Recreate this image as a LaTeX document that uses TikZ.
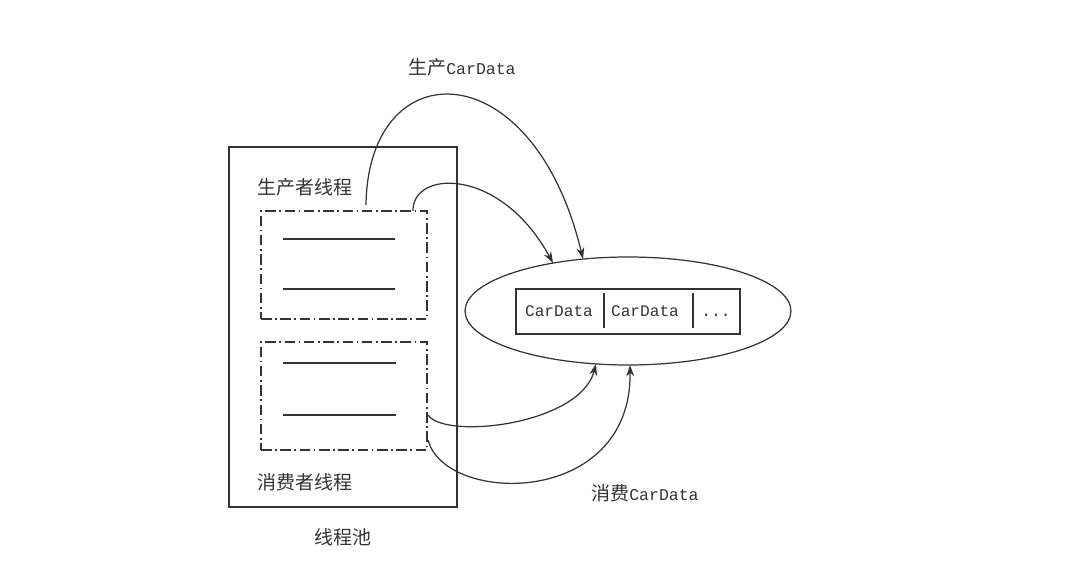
\documentclass[tikz,border=0pt]{standalone}
\usepackage{fontspec}
\setmainfont{Liberation Serif}
\newfontfamily\cjk{Noto Sans CJK SC}
\newfontfamily\mono{Liberation Mono}
\usetikzlibrary{shapes.geometric,arrows.meta}
\definecolor{ink}{HTML}{333333}
\begin{document}
\begin{tikzpicture}[x=0.02cm,y=-0.02cm,
  solidline/.style={draw=ink, line width=0.7pt},
  dashdot/.style={draw=ink, line width=0.7pt, dash pattern=on 6pt off 2pt on 1pt off 2pt},
  arr/.style={-{Stealth[length=6.5pt,width=4.5pt]}, draw=ink, line width=0.7pt},
  lbl/.style={font=\cjk\fontsize{10.8}{12}\selectfont, text=ink, inner sep=0pt},
  cell/.style={font=\mono\fontsize{9.2}{11}\selectfont, text=ink, inner sep=0pt, anchor=base}]
\useasboundingbox (0,0) rectangle (1080,577);
\fill[white] (0,0) rectangle (1080,577);
% thread pool
\node[solidline, minimum width=4.56cm, minimum height=7.2cm, inner sep=0pt] (pool) at (343,327) {};
\node[dashdot, minimum width=3.32cm, minimum height=2.16cm, inner sep=0pt] (prod) at (344,265) {};
\node[dashdot, minimum width=3.32cm, minimum height=2.16cm, inner sep=0pt] (cons) at (344,396) {};
\draw[solidline] (283,239) -- (395,239);
\draw[solidline] (283,289) -- (395,289);
\draw[solidline] (283,363) -- (396,363);
\draw[solidline] (283,415) -- (396,415);
\node[lbl] (lprod) at (305,187) {生产者线程};
\node[lbl] (lcons) at (305,482) {消费者线程};
\node[lbl] (lpool) at (343,537) {线程池};
% queue
\node[solidline, ellipse, minimum width=6.52cm, minimum height=2.16cm, inner sep=0pt] (queue) at (628,311) {};
\node[solidline, minimum width=4.48cm, minimum height=0.9cm, inner sep=0pt] (buf) at (628,311.5) {};
\draw[solidline] (604,293) -- (604,328);
\draw[solidline] (693,293) -- (693,328);
\node[cell] (c1) at (559,317) {CarData};
\node[cell] (c2) at (645,317) {CarData};
\node[cell] (c3) at (716,317) {...};
% labels
\node[lbl] (lput) at (462,67) {生产{\mono\fontsize{9.4}{11}\selectfont CarData}};
\node[lbl] (ltake) at (645,493) {消费{\mono\fontsize{9.4}{11}\selectfont CarData}};
% connector endpoints
\coordinate (s1) at (366,205);
\coordinate (s2) at (413,211);
\coordinate (s3) at (428,415);
\coordinate (s4) at (428,440);
\coordinate (e1) at (583,259);
\coordinate (e2) at (553,263);
\coordinate (e3) at (596,364);
\coordinate (e4) at (630,365);
\draw[arr] (s1) .. controls (368,50) and (533,50) .. (e1);
\draw[arr] (s2) .. controls (412,170) and (500,166) .. (e2);
\draw[arr] (s3) .. controls (445,440) and (580,425) .. (e3);
\draw[arr] (s4) .. controls (445,505) and (632,508) .. (e4);
\end{tikzpicture}
\end{document}
